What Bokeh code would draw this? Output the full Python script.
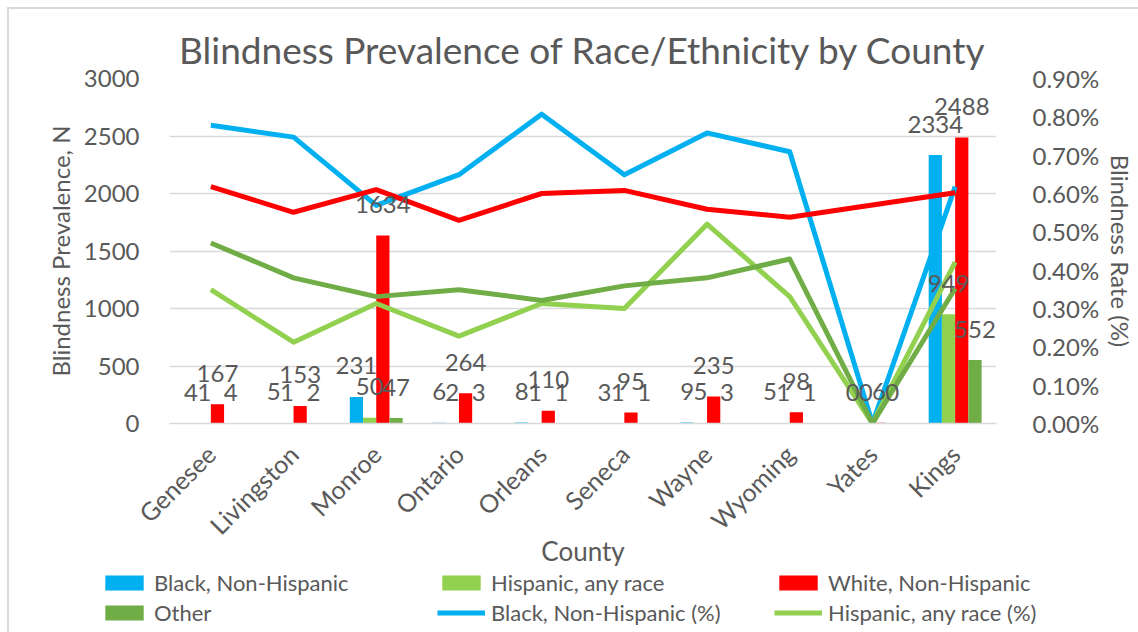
import math
from bokeh.plotting import figure
from bokeh.layouts import column
from bokeh.models import (FactorRange, Range1d, LinearAxis, FixedTicker, PrintfTickFormatter,
                          ColumnDataSource, Legend, LegendItem)
from bokeh.transform import dodge
from bokeh.core.properties import value
from bokeh.embed import file_html
from bokeh.resources import INLINE

# ---------------- data ----------------
counties = ["Genesee", "Livingston", "Monroe", "Ontario", "Orleans",
            "Seneca", "Wayne", "Wyoming", "Yates", "Kings"]
black_n = [4, 5, 231, 6, 8, 3, 9, 5, 0, 2334]
hisp_n = [1, 1, 50, 2, 1, 1, 5, 1, 0, 949]
white_n = [167, 153, 1634, 264, 110, 95, 235, 98, 6, 2488]
other_n = [4, 2, 47, 3, 1, 1, 3, 1, 0, 552]
black_pct = [0.778, 0.747, 0.569, 0.649, 0.807, 0.649, 0.758, 0.709, 0.0, 0.618]
hisp_pct = [0.349, 0.212, 0.313, 0.228, 0.313, 0.300, 0.520, 0.331, 0.0, 0.421]
white_pct = [0.618, 0.551, 0.610, 0.530, 0.600, 0.608, 0.559, 0.538, 0.570, 0.602]
other_pct = [0.471, 0.380, 0.331, 0.349, 0.321, 0.359, 0.380, 0.429, 0.0, 0.352]
left_ticks = [0, 500, 1000, 1500, 2000, 2500, 3000]
right_ticks = [0.0, 0.1, 0.2, 0.3, 0.4, 0.5, 0.6, 0.7, 0.8, 0.9]
legend_labels = ["Black, Non-Hispanic", "Hispanic, any race", "White, Non-Hispanic",
                 "Other", "Black, Non-Hispanic (%)", "Hispanic, any race (%)"]

FONT = "Lato"
GREY = "#595959"
C_BLACK = "#00B0F0"
C_HISP = "#92D050"
C_WHITE = "#FF0000"
C_OTHER = "#70AD47"

src = ColumnDataSource(dict(
    county=counties,
    black_n=black_n, hisp_n=hisp_n, white_n=white_n, other_n=other_n,
    black_l=[str(v) for v in black_n], hisp_l=[str(v) for v in hisp_n],
    white_l=[str(v) for v in white_n], other_l=[str(v) for v in other_n],
    black_pct=black_pct, hisp_pct=hisp_pct, white_pct=white_pct, other_pct=other_pct,
))

MAIN_H = 570
p = figure(width=1138, height=MAIN_H, x_range=FactorRange(*counties), y_range=Range1d(0, 3000),
           output_backend="svg", toolbar_location=None,
           min_border_left=169, min_border_right=125, min_border_top=78,
           min_border_bottom=MAIN_H - 426)
p.outline_line_color = None
p.background_fill_color = "white"
p.border_fill_alpha = 0

p.extra_y_ranges = {"pct": Range1d(0, 0.9)}

# title
p.title.text = "Blindness Prevalence of Race/Ethnicity by County"
p.title.text_font = FONT
p.title.text_font_size = "37px"
p.title.text_font_style = "normal"
p.title.text_color = GREY
p.title.align = "center"
p.title.offset = -11
p.title.standoff = 14

# axes
xa = p.xaxis[0]
xa.major_label_orientation = math.pi / 4
xa.major_label_text_font = FONT
xa.major_label_text_font_size = "25px"
xa.major_label_text_color = GREY
xa.axis_line_color = "#D9D9D9"
xa.axis_line_width = 1.5
xa.major_tick_line_color = None
xa.minor_tick_line_color = None
xa.major_label_standoff = 20
xa.axis_label = "County"
xa.axis_label_text_font = FONT
xa.axis_label_text_font_size = "26px"
xa.axis_label_text_font_style = "normal"
xa.axis_label_text_color = GREY
xa.axis_label_standoff = -18

ya = p.yaxis[0]
ya.ticker = FixedTicker(ticks=left_ticks)
ya.axis_line_color = None
ya.major_tick_line_color = None
ya.minor_tick_line_color = None
ya.major_label_text_font = FONT
ya.major_label_text_font_size = "24px"
ya.major_label_text_color = GREY
ya.major_label_standoff = 24
ya.axis_label = "Blindness Prevalence, N"
ya.axis_label_text_font = FONT
ya.axis_label_text_font_size = "24px"
ya.axis_label_text_font_style = "normal"
ya.axis_label_text_color = GREY
ya.axis_label_standoff = 6

ra = LinearAxis(y_range_name="pct", ticker=FixedTicker(ticks=right_ticks),
                formatter=PrintfTickFormatter(format="%.2f%%"))
ra.axis_line_color = None
ra.major_tick_line_color = None
ra.minor_tick_line_color = None
ra.major_label_text_font = FONT
ra.major_label_text_font_size = "24px"
ra.major_label_text_color = GREY
ra.major_label_standoff = 30
ra.axis_label = "Blindness Rate (%)"
ra.axis_label_text_font = FONT
ra.axis_label_text_font_size = "24px"
ra.axis_label_text_font_style = "normal"
ra.axis_label_text_color = GREY
ra.axis_label_standoff = 4
p.add_layout(ra, "right")

p.xgrid.grid_line_color = None
p.ygrid.ticker = FixedTicker(ticks=left_ticks)
p.ygrid.grid_line_color = "#D9D9D9"
p.ygrid.grid_line_width = 1.5

# bars
W = 0.16
offs = [-0.24, -0.08, 0.08, 0.24]
bar_specs = [("black_n", C_BLACK), ("hisp_n", C_HISP), ("white_n", C_WHITE), ("other_n", C_OTHER)]
for (col, color), off in zip(bar_specs, offs):
    p.vbar(x=dodge("county", off, range=p.x_range), top=col, width=W, bottom=0,
           source=src, fill_color=color, line_color=None)

# lines
line_specs = [("black_pct", C_BLACK), ("hisp_pct", C_HISP),
              ("white_pct", C_WHITE), ("other_pct", C_OTHER)]
for col, color in line_specs:
    p.line(x="county", y=col, source=src, y_range_name="pct",
           line_color=color, line_width=5, line_join="round")

# data labels
for col, lab, off in zip(["black_n", "hisp_n", "white_n", "other_n"],
                         ["black_l", "hisp_l", "white_l", "other_l"], offs):
    p.text(x=dodge("county", off, range=p.x_range), y=col, text=lab, source=src,
           text_font=value(FONT), text_font_size="24px", text_color=GREY,
           text_align="center", text_baseline="middle", y_offset=-31)

# ---------------- legend strip (series kept out of view; only the legend shows) ----------------
LEG_H = 632 - MAIN_H
pl = figure(width=1138, height=LEG_H, x_range=FactorRange(*counties), y_range=Range1d(5000, 5001),
            output_backend="svg", toolbar_location=None,
            x_axis_type=None, y_axis_type=None, min_border=0)
if "frame_align" in pl.properties():
    pl.frame_align = False
pl.outline_line_color = None
pl.background_fill_alpha = 0
pl.border_fill_alpha = 0
pl.xgrid.grid_line_color = None
pl.ygrid.grid_line_color = None
leg_r = []
for col, color in bar_specs:
    leg_r.append(pl.vbar(x="county", top=col, bottom=0, width=W, source=src,
                         fill_color=color, line_color=None))
for col, color in line_specs[:2]:
    leg_r.append(pl.line(x="county", y=col, source=src, line_color=color, line_width=5))

legend = Legend(items=[LegendItem(label=lab, renderers=[r]) for lab, r in zip(legend_labels, leg_r)],
                location=(100, 6), orientation="horizontal", ncols=3)
legend.label_text_font = FONT
legend.label_text_font_size = "22px"
legend.label_text_color = GREY
legend.glyph_width = 48
legend.glyph_height = 19
legend.label_standoff = 6
legend.label_width = 280
legend.label_height = 19
legend.spacing = 3
legend.padding = 0
legend.margin = 0
legend.border_line_color = None
legend.background_fill_alpha = 0
pl.add_layout(legend, "center")

layout = column(p, pl, spacing=0)
layout.styles = {"background-color": "white",
                 "box-shadow": "inset 7px 7px 0 0 white, inset 9px 9px 0 0 #D9D9D9"}

open("out.html", "w").write(file_html(layout, INLINE))
